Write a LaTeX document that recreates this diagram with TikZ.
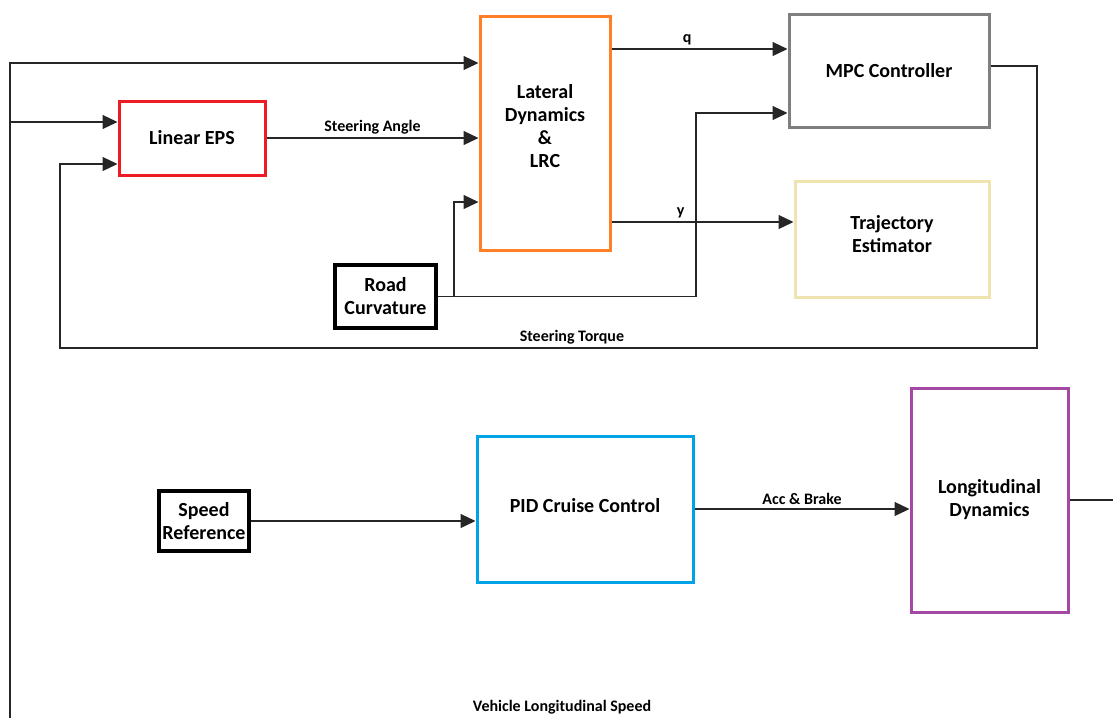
\documentclass[tikz,border=0pt]{standalone}
\usepackage{fontspec}
\setmainfont{Carlito}
\usetikzlibrary{arrows.meta,positioning}
\definecolor{epsred}{RGB}{237,28,36}
\definecolor{latorange}{RGB}{255,127,39}
\definecolor{mpcgray}{RGB}{127,127,127}
\definecolor{trajyellow}{RGB}{239,228,176}
\definecolor{pidblue}{RGB}{0,162,232}
\definecolor{lonpurple}{RGB}{163,73,164}
\tikzset{
  block/.style={draw,line width=3pt,inner sep=0pt,align=center,
    font=\fontsize{20}{23}\selectfont\bfseries},
  srcblock/.style={block,line width=4pt},
  conn/.style={line width=1.2pt,draw=black!85,-{Triangle[length=15pt,width=14pt]}},
  wire/.style={line width=1.2pt,draw=black!85},
  lbl/.style={font=\fontsize{16}{19}\selectfont\bfseries}
}
\begin{document}
\begin{tikzpicture}[x=1pt,y=-1pt]
\useasboundingbox (0,0) rectangle (1113,718);
% blocks of the lateral loop
\node[block,draw=epsred,minimum width=146,minimum height=74] (eps) at (192,138) {Linear EPS};
\node[block,draw=latorange,minimum width=130,minimum height=234] (lat) at (545,133) {Lateral\\Dynamics\\\&\\LRC\\[-8pt]\mbox{}};
\node[block,draw=mpcgray,minimum width=200,minimum height=113] (mpc) at (889,70.5) {MPC Controller};
\node[block,draw=trajyellow,minimum width=194,minimum height=116] (traj) at (892,239) {Trajectory\\Estimator\\[-13pt]\mbox{}};
\node[srcblock,minimum width=101,minimum height=63] (road) at (385.5,296.5) {Road\\Curvature};
% blocks of the longitudinal loop
\node[srcblock,minimum width=90,minimum height=60] (spd) at (204,521) {Speed\\Reference};
\node[block,draw=pidblue,minimum width=216,minimum height=146] (pid) at (585,509) {PID Cruise Control\\[-15pt]\mbox{}};
\node[block,draw=lonpurple,minimum width=157,minimum height=224] (lon) at (989.5,500) {Longitudinal\\Dynamics};

% turning points
\coordinate (inA) at (10,63);
\coordinate (inB) at (10,122);
\coordinate (inEnd) at (10,718);
\coordinate (qy) at (0,49);
\coordinate (yy) at (0,222);
\coordinate (fbR) at (1037,66);
\coordinate (fbL) at (60,348);
\coordinate (fbIn) at (0,164);
\coordinate (rcA) at (454,202);
\coordinate (rcB) at (696,113);
\coordinate (outR) at (1113,508);

% speed feedback into the lateral loop
\draw[conn] (inEnd) -- (inA) -- (inA -| lat.west);
\draw[conn] (inB) -- (inB -| eps.west);
% lateral loop
\draw[conn] (eps.east) -- (eps.east -| lat.west) node[midway,above,lbl] {Steering Angle};
\draw[conn] (lat.east |- qy) -- (mpc.west |- qy) node[pos=0.43,above,lbl] {q};
\draw[conn] (lat.east |- yy) -- (traj.west |- yy) node[pos=0.38,above,lbl] {y};
\draw[conn] (mpc.east |- fbR) -- (fbR) -- (fbR |- fbL)
  -- node[pos=0.476,above,lbl] {Steering Torque} (fbL) -- (fbL |- fbIn) -- (fbIn -| eps.west);
\draw[conn] (road.east) -- (road.east -| rcA) -- (rcA) -- (rcA -| lat.west);
\draw[conn] (road.east -| rcA) -- (road.east -| rcB) -- (rcB) -- (rcB -| mpc.west);
% longitudinal loop
\draw[conn] (spd.east) -- (spd.east -| pid.west);
\draw[conn] (pid.east) -- (pid.east -| lon.west) node[midway,above,lbl] {Acc \& Brake};
\draw[wire] (lon.east) -- (lon.east -| outR);
\node[lbl] (vspeed) at (562,707) {Vehicle Longitudinal Speed};
\end{tikzpicture}
\end{document}
